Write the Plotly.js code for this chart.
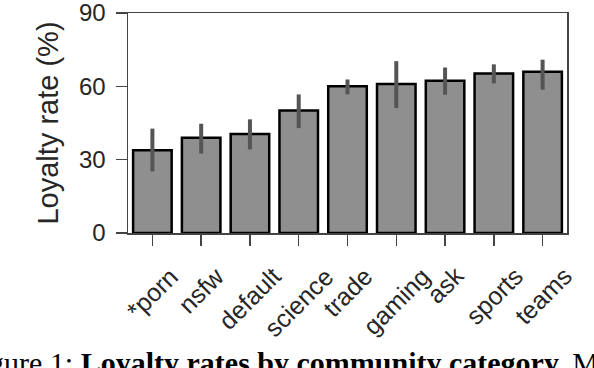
<!DOCTYPE html>
<html>
<head>
<meta charset="utf-8">
<script src="https://cdn.plot.ly/plotly-3.0.1.min.js"></script>
<style>
  body { margin: 0; padding: 0; background: #fff; }
  #chart { width: 594px; height: 368px; }
</style>
</head>
<body>
<div id="chart"></div>
<script>
// categories and loyalty values
var categories = ['*porn', 'nsfw', 'default', 'science', 'trade', 'gaming', 'ask', 'sports', 'teams'];
var loyalty = [33.9, 39.0, 40.5, 50.1, 60.0, 61.0, 62.3, 65.3, 66.0];
// confidence interval ends
var ciHigh = [42.7, 44.7, 46.5, 56.7, 62.8, 70.3, 67.7, 69.0, 70.9];
var ciLow = [25.2, 32.5, 34.2, 42.9, 56.7, 51.1, 56.6, 61.2, 58.6];
var yTicks = [0, 30, 60, 90];

var caption = 'Figure 1: <b>Loyalty rates by community category.</b> M';

var errPlus = [], errMinus = [];
for (var i = 0; i < loyalty.length; i++) {
  errPlus.push(ciHigh[i] - loyalty[i]);
  errMinus.push(loyalty[i] - ciLow[i]);
}

var bars = {
  type: 'bar',
  x: categories,
  y: loyalty,
  width: 0.79,
  marker: {
    color: '#8f8f8f',
    line: { color: '#000000', width: 2.5 }
  },
  error_y: {
    type: 'data',
    symmetric: false,
    array: errPlus,
    arrayminus: errMinus,
    color: '#555555',
    thickness: 4,
    width: 0
  },
  hoverinfo: 'skip'
};

// rotated category labels, centred under each tick
var annotations = [];
for (var c of categories) {
  annotations.push({
    xref: 'x', yref: 'paper',
    x: c, y: -0.118,
    xanchor: 'center', yanchor: 'top',
    text: c,
    textangle: -45,
    showarrow: false,
    font: { family: 'Liberation Sans, Arial, sans-serif', size: 25, color: '#262626' }
  });
}
annotations.push({
  xref: 'paper', yref: 'paper',
  x: -0.377, y: -0.59,
  xanchor: 'left', yanchor: 'middle',
  text: caption,
  showarrow: false,
  font: { family: 'Liberation Serif, Times New Roman, serif', size: 30, color: '#000000' }
});

var layout = {
  width: 594,
  height: 368,
  margin: { l: 128, r: 27, t: 12.5, b: 135 },
  showlegend: false,
  paper_bgcolor: '#ffffff',
  plot_bgcolor: '#ffffff',
  font: { family: 'Liberation Sans, Arial, sans-serif', color: '#262626' },
  xaxis: {
    type: 'category',
    range: [-0.5, 8.5],
    showticklabels: false,
    ticks: 'outside',
    ticklen: 11,
    tickwidth: 1.5,
    tickcolor: '#444444',
    showline: true,
    linecolor: '#444444',
    linewidth: 1.5,
    mirror: true,
    showgrid: false,
    zeroline: false
  },
  yaxis: {
    range: [0, 90],
    tickvals: yTicks,
    ticktext: yTicks.map(String),
    ticks: 'outside',
    ticklen: 11,
    tickwidth: 1.5,
    tickcolor: '#444444',
    ticklabelstandoff: 5,
    ticklabeloverflow: 'allow',
    tickfont: { size: 24, color: '#262626' },
    showline: true,
    linecolor: '#444444',
    linewidth: 1.5,
    mirror: true,
    showgrid: false,
    zeroline: false,
    title: { text: 'Loyalty rate (%)', font: { size: 29, color: '#262626' }, standoff: 12 }
  },
  annotations: annotations
};

Plotly.newPlot('chart', [bars], layout, { staticPlot: true, displayModeBar: false });
</script>
</body>
</html>
